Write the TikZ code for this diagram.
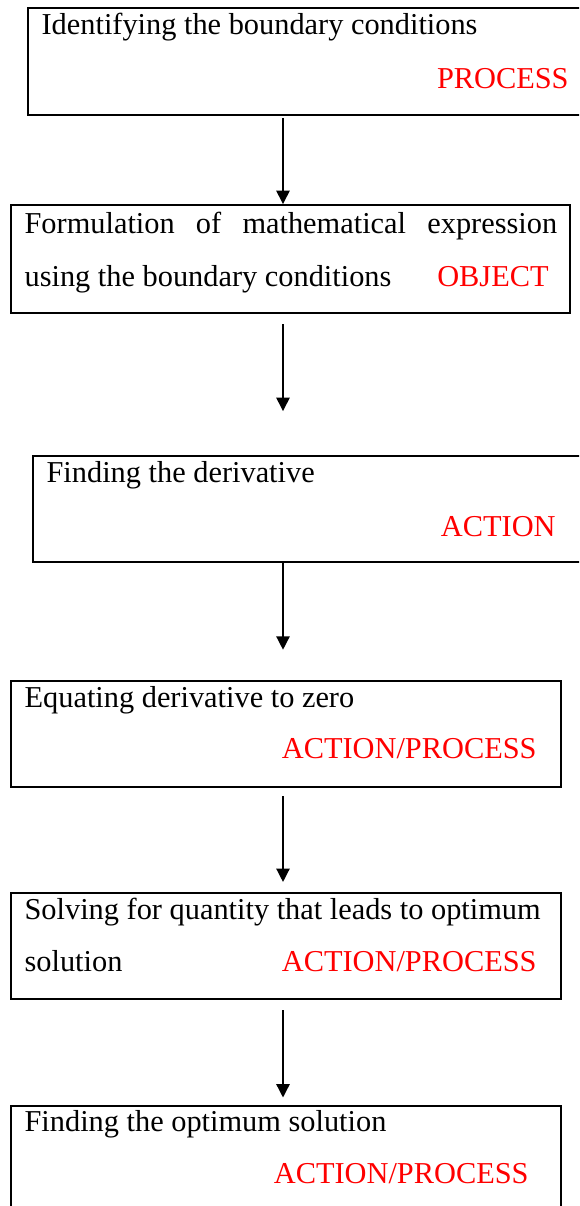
\documentclass[tikz,border=0pt]{standalone}
\usepackage{fontspec}
\setmainfont{Liberation Serif}
\usetikzlibrary{arrows.meta, calc, fit}

\begin{document}
\begin{tikzpicture}[x=0.3953pt, y=-0.3953pt,
        box/.style={draw, line width=0.7pt, inner sep=0pt},
        txt/.style={inner sep=0pt, anchor=base west, font=\fontsize{12}{14}\selectfont},
        tag/.style={txt, anchor=base east, text=red},
        flow/.style={line width=0.8pt, -{Triangle[length=5.3pt, width=5.2pt]}}]

                \useasboundingbox (0,0) rectangle (579,1206);
                \clip (0,0) rectangle (579,1206);

                \coordinate (axis) at (283,0);

                % identifying
                \node[box, fit={(28,8) (600,115)}] (identify) {};
                \node[txt] (identifyText) at ($ (identify.north west) + (14,27) $) {Identifying the boundary conditions};
                \node[tag] (identifyTag) at ($ (identify.north west) + (542,81) $) {PROCESS};

                % formulation
                \node[box, fit={(11,205) (570,313)}] (formulate) {};
                \node[txt] (formulateText) at ($ (formulate.north west) + (14,29) $) {\makebox[210.5pt][s]{Formulation of mathematical expression}};
                \node[txt] (formulateText2) at ($ (formulate.north west) + (14,82) $) {using the boundary conditions};
                \node[tag] (formulateTag) at ($ (formulate.north west) + (539,82) $) {OBJECT};

                % derivative
                \node[box, fit={(33,456) (600,562)}] (derive) {};
                \node[txt] (deriveText) at ($ (derive.north west) + (14,27.5) $) {Finding the derivative};
                \node[tag] (deriveTag) at ($ (derive.north west) + (524,81) $) {ACTION};

                % equating
                \node[box, fit={(11,681) (561,787)}] (equate) {};
                \node[txt] (equateText) at ($ (equate.north west) + (14,27.5) $) {Equating derivative to zero};
                \node[tag] (equateTag) at ($ (equate.north west) + (527,78.5) $) {ACTION/PROCESS};

                % solving
                \node[box, fit={(11,893) (561,999)}] (solve) {};
                \node[txt] (solveText) at ($ (solve.north west) + (14,27) $) {Solving for quantity that leads to optimum};
                \node[txt] (solveText2) at ($ (solve.north west) + (14,79.5) $) {solution};
                \node[tag] (solveTag) at ($ (solve.north west) + (527,79.5) $) {ACTION/PROCESS};

                % optimum
                \node[box, fit={(11,1106) (561,1215)}] (optimum) {};
                \node[txt] (optimumText) at ($ (optimum.north west) + (14,26) $) {Finding the optimum solution};
                \node[tag] (optimumTag) at ($ (optimum.north west) + (519,78) $) {ACTION/PROCESS};

                % arrows
                \draw[flow, shorten <=0.8pt] (identify.south -| axis) -- (formulate.north -| axis);
                \draw[flow, shorten <=4pt, shorten >=17.4pt] (formulate.south -| axis) -- (derive.north -| axis);
                \draw[flow, shorten >=12pt] (derive.south -| axis) -- (equate.north -| axis);
                \draw[flow, shorten <=3.4pt, shorten >=4pt] (equate.south -| axis) -- (solve.north -| axis);
                \draw[flow, shorten <=4pt, shorten >=3pt] (solve.south -| axis) -- (optimum.north -| axis);

            \end{tikzpicture}
\end{document}
